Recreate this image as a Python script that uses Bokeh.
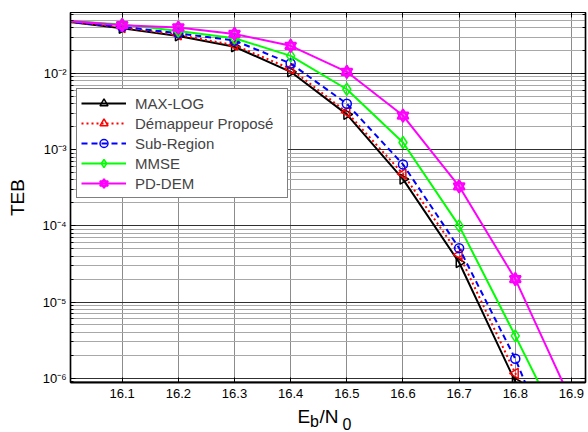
import math
from bokeh.plotting import figure
from bokeh.layouts import column
from bokeh.models import (Range1d, FixedTicker, LogTicker, LinearAxis, LogAxis, Label,
                          Legend, LegendItem, CustomJSTickFormatter)
from bokeh.embed import file_html
from bokeh.resources import INLINE

# ---- data ----
ebn0 = [16.0, 16.1, 16.2, 16.3, 16.4, 16.5, 16.6, 16.7, 16.8, 16.9]
max_log = [0.048, 0.039, 0.031, 0.0224, 0.0105, 0.0029, 4.1e-4, 3.3e-5, 9.0e-7, 2.0e-8]
demap_propose = [0.048, 0.040, 0.032, 0.0235, 0.0115, 0.0031, 4.8e-4, 4.2e-5, 1.16e-6, 6.0e-8]
sub_region = [0.048, 0.041, 0.0336, 0.027, 0.0135, 0.0040, 6.4e-4, 5.1e-5, 1.8e-6, 3.0e-8]
mmse = [0.049, 0.044, 0.036, 0.029, 0.017, 0.0062, 1.24e-3, 1.0e-4, 3.6e-6, 1.2e-7]
pd_dem = [0.049, 0.043, 0.040, 0.033, 0.023, 0.0105, 2.8e-3, 3.3e-4, 2.0e-5, 5.0e-7]
x_ticks = [16.1, 16.2, 16.3, 16.4, 16.5, 16.6, 16.7, 16.8, 16.9]
series_names = ["MAX-LOG", "Démappeur Proposé", "Sub-Region", "MMSE", "PD-DEM"]

FONT = "Liberation Sans"

p = figure(width=588, height=404, output_backend="svg", toolbar_location=None,
           y_axis_type="log",
           x_range=Range1d(16.008, 16.925), y_range=Range1d(8.8e-7, 0.063),
           min_border_left=70, min_border_right=3, min_border_top=12, min_border_bottom=22)
p.background_fill_color = "white"
p.border_fill_color = "white"
p.outline_line_color = "black"
p.outline_line_width = 1.2

sup_code = """
const sup = {'-':'\u207b','0':'\u2070','1':'\u00b9','2':'\u00b2','3':'\u00b3','4':'\u2074','5':'\u2075','6':'\u2076','7':'\u2077','8':'\u2078','9':'\u2079'};
const e = Math.round(Math.log10(tick));
return '10' + String(e).split('').map(c => sup[c]).join('');
"""

p.xaxis.ticker = FixedTicker(ticks=x_ticks)
p.xaxis.minor_tick_line_color = None
p.xaxis.major_tick_in = 5
p.xaxis.major_tick_out = 0
p.xaxis.major_label_standoff = 6
p.xaxis.major_label_text_font = FONT
p.xaxis.major_label_text_font_size = "13px"
p.xaxis.major_label_text_color = "black"
p.xaxis.axis_line_width = 2
p.xaxis.axis_label = None

p.yaxis.formatter = CustomJSTickFormatter(code=sup_code)
p.yaxis.major_tick_in = 5
p.yaxis.major_tick_out = 0
p.yaxis.minor_tick_in = 3
p.yaxis.minor_tick_out = 0
p.yaxis.major_label_standoff = 4
p.yaxis.major_label_text_font = FONT
p.yaxis.major_label_text_font_size = "13px"
p.yaxis.major_label_text_color = "black"
p.yaxis.axis_line_width = 1.5
p.yaxis.axis_label = "TEB"
p.yaxis.axis_label_text_font = FONT
p.yaxis.axis_label_text_font_size = "19px"
p.yaxis.axis_label_text_font_style = "normal"
p.yaxis.axis_label_text_color = "black"
p.yaxis.axis_label_standoff = 11

# top and right box axes (ticks only, no visible labels)
top = LinearAxis(ticker=FixedTicker(ticks=x_ticks), major_tick_in=5, major_tick_out=0,
                 minor_tick_line_color=None, major_label_text_font_size="1px",
                 major_label_text_color=None, major_label_standoff=0, axis_line_width=1.2)
p.add_layout(top, "above")
right = LogAxis(ticker=LogTicker(), formatter=CustomJSTickFormatter(code=sup_code),
                major_tick_in=5, major_tick_out=0, minor_tick_in=3,
                minor_tick_out=0, major_label_text_font_size="1px",
                major_label_text_color=None, major_label_standoff=0,
                axis_line_width=1.5)
p.add_layout(right, "right")

p.xgrid.grid_line_color = "#8c8c8c"
p.xgrid.grid_line_width = 1
p.ygrid.grid_line_color = "#303030"
p.ygrid.grid_line_width = 1
p.ygrid.minor_grid_line_color = "#a8a8a8"
p.ygrid.minor_grid_line_width = 1

items = []
# MAX-LOG
l1 = p.line(ebn0, max_log, line_color="black", line_width=2)
m1 = p.scatter(ebn0[1:], max_log[1:], marker="triangle", angle=-math.pi / 2, size=10,
               line_color="black", line_width=1.5, fill_color=None)
items.append(LegendItem(label=series_names[0], renderers=[l1, m1]))
# Démappeur proposé
l2 = p.line(ebn0, demap_propose, line_color="#ff0000", line_width=2, line_dash="2 3")
m2 = p.scatter(ebn0[1:], demap_propose[1:], marker="triangle", angle=math.pi / 2, size=10,
               line_color="#ff0000", line_width=1.5, fill_color=None)
items.append(LegendItem(label=series_names[1], renderers=[l2, m2]))
# Sub-Region
l3 = p.line(ebn0, sub_region, line_color="#0000ff", line_width=2, line_dash="6 4")
m3 = p.scatter(ebn0[1:], sub_region[1:], marker="circle", size=9,
               line_color="#0000ff", line_width=1.5, fill_color=None)
items.append(LegendItem(label=series_names[2], renderers=[l3, m3]))
# MMSE
l4 = p.line(ebn0, mmse, line_color="#00ff00", line_width=2)
m4 = p.scatter(ebn0[1:], mmse[1:], marker="diamond", size=12,
               line_color="#00ff00", line_width=1.5, fill_color=None)
items.append(LegendItem(label=series_names[3], renderers=[l4, m4]))
# PD-DEM
l5 = p.line(ebn0, pd_dem, line_color="#ff00ff", line_width=2)
m5a = p.scatter(ebn0[1:], pd_dem[1:], marker="triangle", size=11,
                line_color="#ff00ff", line_width=2, fill_color="#ff00ff", fill_alpha=0.3)
m5b = p.scatter(ebn0[1:], pd_dem[1:], marker="inverted_triangle", size=11,
                line_color="#ff00ff", line_width=2, fill_color="#ff00ff", fill_alpha=0.3)
items.append(LegendItem(label=series_names[4], renderers=[l5, m5a, m5b]))

legend = Legend(items=items, location=(6, 184), orientation="vertical",
                label_text_font=FONT, label_text_font_size="15px",
                glyph_width=45, glyph_height=20, label_height=20, label_width=148,
                label_standoff=9, spacing=0, padding=4, margin=0,
                border_line_color="black", border_line_width=1.2,
                background_fill_color="white", background_fill_alpha=1.0)
p.add_layout(legend, "center")

# strip below the chart holding the x-axis title E_b/N_0 as real text pieces
# (its frame is aligned with the main frame, so x is measured from the frame's left edge)
p2 = figure(width=588, height=28, output_backend="svg", toolbar_location=None,
            x_axis_location=None, y_axis_location=None, min_border=0,
            x_range=Range1d(0, 1), y_range=Range1d(0, 1))
p2.outline_line_color = None
p2.grid.visible = False
p2.background_fill_color = "white"
p2.border_fill_color = "white"
lab_kw = dict(x_units="screen", y_units="screen", text_font=FONT, text_color="black")
p2.add_layout(Label(x=227, y=6, text="E", text_font_size="19px", **lab_kw))
p2.add_layout(Label(x=239.5, y=3, text="b", text_font_size="16px", **lab_kw))
p2.add_layout(Label(x=249, y=6, text="/N", text_font_size="19px", **lab_kw))
p2.add_layout(Label(x=272, y=3, text="0", text_font_size="16px", **lab_kw))

layout = column(p, p2, spacing=0)
open("out.html", "w").write(file_html(layout, INLINE))
